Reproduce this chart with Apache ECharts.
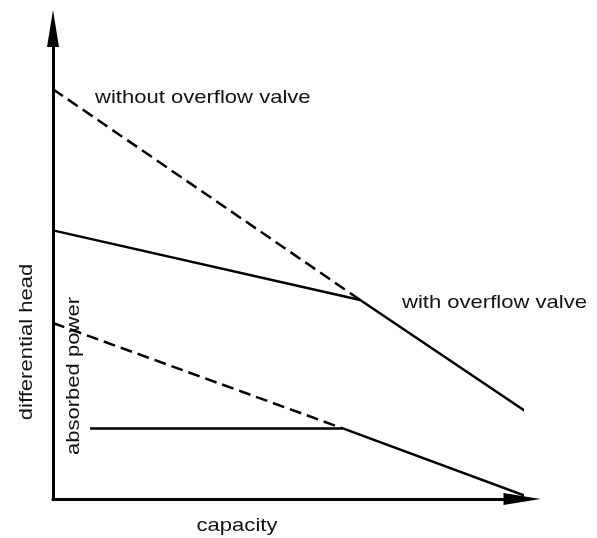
<!DOCTYPE html>
<html>
<head>
<meta charset="utf-8">
<script src="https://cdn.jsdelivr.net/npm/echarts@6/dist/echarts.min.js"></script>
<style>
  html, body { margin: 0; padding: 0; background: #fff; }
  #chart { width: 597px; height: 538px; }
</style>
</head>
<body>
<div id="chart"></div>
<script>
// curves, capacity (x) vs head / power (y), both 0..100 in relative units
var headWithoutValve = [[0, 87.1], [65.5, 42.3]];
var headWithValve = [[0, 57.1], [65.5, 42.3], [101.3, 18.3]];
var powerWithoutValve = [[0, 37.4], [61.8, 15.0]];
var powerWithValve = [[7.9, 15.0], [61.8, 15.0], [101.7, 0.3]];

var labelFont = "19px 'Liberation Sans', Arial, sans-serif";

function curve(data, dashed) {
  return {
    type: "line",
    data: data,
    symbol: "none",
    clip: false,
    silent: true,
    lineStyle: {
      color: "#000",
      width: 2.5,
      type: dashed ? [12, 6] : "solid"
    }
  };
}

function label(text, x, y, align, rotation) {
  return {
    type: "text",
    x: x,
    y: y,
    rotation: rotation || 0,
    scaleX: 1.16,
    style: {
      text: text,
      font: labelFont,
      fill: "#111",
      align: align,
      verticalAlign: "middle"
    }
  };
}

var axisLine = {
  show: true,
  symbol: ["none", "triangle"],
  symbolSize: [12, 37],
  lineStyle: { color: "#000", width: 3 }
};

var option = {
  animation: false,
  backgroundColor: "#fff",
  grid: {
    left: 53,
    right: 75,
    top: 28.5,
    bottom: 39,
    outerBoundsMode: "none"
  },
  xAxis: {
    type: "value",
    min: 0,
    max: 100,
    axisLine: axisLine,
    axisTick: { show: false },
    axisLabel: { show: false },
    splitLine: { show: false }
  },
  yAxis: {
    type: "value",
    min: 0,
    max: 100,
    axisLine: axisLine,
    axisTick: { show: false },
    axisLabel: { show: false },
    splitLine: { show: false }
  },
  series: [
    curve(headWithoutValve, true),
    curve(headWithValve, false),
    curve(powerWithoutValve, true),
    curve(powerWithValve, false)
  ],
  graphic: [
    label("without overflow valve", 95, 98, "left"),
    label("with overflow valve", 402, 303, "left"),
    label("capacity", 237, 526, "center"),
    label("differential head", 27, 342, "center", Math.PI / 2),
    label("absorbed power", 74, 376, "center", Math.PI / 2)
  ]
};

var myChart = echarts.init(document.getElementById("chart"));
myChart.setOption(option);
</script>
</body>
</html>
